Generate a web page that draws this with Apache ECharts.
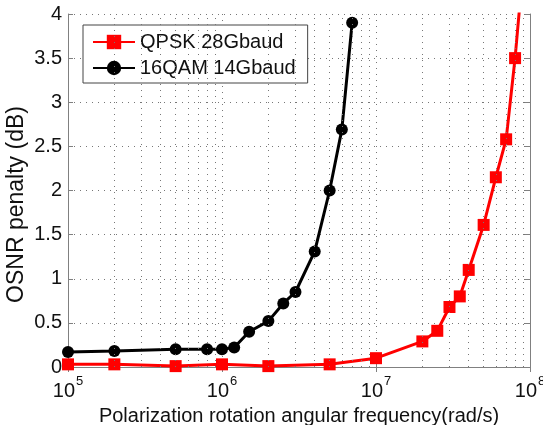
<!DOCTYPE html>
<html>
<head>
<meta charset="utf-8">
<script src="https://cdn.jsdelivr.net/npm/echarts@6/dist/echarts.min.js"></script>
<style>
html,body{margin:0;padding:0;background:#fff;}
#c{width:543px;height:425px;}
</style>
</head>
<body>
<div id="c"></div>
<script>
// ---- data ----
const qpskName = 'QPSK 28Gbaud';
const qamName = '16QAM 14Gbaud';
const qpskX = [1e5, 2e5, 5e5, 1e6, 2e6, 5e6, 1e7, 2e7, 2.5e7, 3e7, 3.5e7, 4e7, 5e7, 6e7, 7e7, 8e7, 9e7];
const qpskY = [0.03, 0.03, 0.01, 0.03, 0.01, 0.03, 0.10, 0.29, 0.41, 0.68, 0.80, 1.10, 1.61, 2.15, 2.58, 3.50, 4.50];
const qamX = [1e5, 2e5, 5e5, 8e5, 1e6, 1.2e6, 1.5e6, 2e6, 2.5e6, 3e6, 4e6, 5e6, 6e6, 7e6];
const qamY = [0.17, 0.18, 0.20, 0.20, 0.20, 0.22, 0.40, 0.52, 0.72, 0.85, 1.31, 2.00, 2.69, 3.90];
const minorGridX = [2e5,3e5,4e5,5e5,6e5,7e5,8e5,9e5, 2e6,3e6,4e6,5e6,6e6,7e6,8e6,9e6, 2e7,3e7,4e7,5e7,6e7,7e7,8e7,9e7];
const xTitle = 'Polarization rotation angular frequency(rad/s)';
const yTitle = 'OSNR penalty (dB)';

const font = 'Liberation Sans, Arial, sans-serif';
const gridColor = '#777';
const boxColor = '#808080';
const dotted = {color: gridColor, width: 1, type: [1, 5]};

const chart = echarts.init(document.getElementById('c'), null, {renderer: 'canvas'});
const option = {
  animation: false,
  backgroundColor: '#fff',
  textStyle: {fontFamily: font},
  grid: {left: 68, right: 13, top: 14, bottom: 58, containLabel: false, outerBoundsMode: 'none'},
  legend: {
    left: 83, top: 25,
    orient: 'vertical',
    data: [qpskName, qamName],
    backgroundColor: '#fff',
    borderColor: '#444', borderWidth: 1,
    padding: [7, 12, 5, 9],
    itemGap: 6,
    itemWidth: 42, itemHeight: 18,
    textStyle: {fontSize: 20, color: '#111', fontFamily: font}
  },
  xAxis: [{
    type: 'log', logBase: 10, min: 1e5, max: 1e8,
    name: xTitle, nameLocation: 'middle', nameGap: 39, nameMoveOverlap: false,
    nameTextStyle: {fontSize: 20, color: '#111', fontFamily: font},
    axisLine: {show: true, lineStyle: {color: boxColor, width: 1}},
    axisTick: {show: true, inside: true, length: 5, lineStyle: {color: boxColor}},
    splitLine: {show: true, lineStyle: dotted},
    axisLabel: {
      margin: 8,
      formatter: function (v) {
        const e = Math.round(Math.log10(v));
        return '{b|10}{s|' + e + '}';
      },
      rich: {
        b: {fontSize: 20, color: '#111', fontFamily: font, lineHeight: 26, verticalAlign: 'bottom'},
        s: {fontSize: 13, color: '#111', fontFamily: font, lineHeight: 26, verticalAlign: 'top', padding: [0,0,0,1]}
      }
    }
  }, {
    type: 'log', logBase: 10, min: 1e5, max: 1e8, position: 'top',
    axisLine: {show: true, lineStyle: {color: boxColor, width: 1}},
    axisTick: {show: true, inside: true, length: 5, lineStyle: {color: boxColor}},
    axisLabel: {show: false}, splitLine: {show: false}
  }],
  yAxis: [{
    type: 'value', min: 0, max: 4, interval: 0.5,
    name: yTitle, nameLocation: 'middle', nameGap: 40, nameRotate: 90, nameMoveOverlap: false,
    nameTextStyle: {fontSize: 23, color: '#111', fontFamily: font, padding: [0, 28, 0, 0]},
    axisLine: {show: true, lineStyle: {color: boxColor, width: 1}},
    axisTick: {show: true, inside: true, length: 5, lineStyle: {color: boxColor}},
    splitLine: {show: true, lineStyle: dotted},
    axisLabel: {fontSize: 20, color: '#111', fontFamily: font, margin: 6}
  }, {
    type: 'value', min: 0, max: 4, interval: 0.5, position: 'right',
    axisLine: {show: true, lineStyle: {color: boxColor, width: 1}},
    axisTick: {show: true, inside: true, length: 5, lineStyle: {color: boxColor}},
    axisLabel: {show: false}, splitLine: {show: false}
  }],
  series: [{
    name: 'minorGrid', type: 'line', z: 1, silent: true,
    data: [[1e6, -10]], showSymbol: false, lineStyle: {width: 0},
    xAxisIndex: 0, yAxisIndex: 0,
    markLine: {
      silent: true, symbol: ['none', 'none'], label: {show: false},
      lineStyle: dotted, animation: false, emphasis: {disabled: true},
      data: minorGridX.map(v => ({xAxis: v}))
    }
  }, {
    name: qpskName, type: 'line', z: 3,
    data: qpskX.map((x, i) => [x, qpskY[i]]),
    symbol: 'rect', symbolSize: 12,
    itemStyle: {color: '#ff0000'},
    lineStyle: {color: '#ff0000', width: 3},
    clip: true
  }, {
    name: qamName, type: 'line', z: 4,
    data: qamX.map((x, i) => [x, qamY[i]]),
    symbol: 'circle', symbolSize: 12,
    itemStyle: {color: '#000'},
    lineStyle: {color: '#000', width: 3},
    clip: true
  }]
};
chart.setOption(option);
</script>
</body>
</html>
